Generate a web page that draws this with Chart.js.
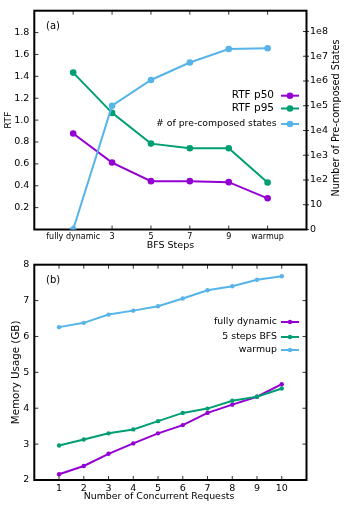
<!DOCTYPE html>
<html>
<head>
<meta charset="utf-8">
<script src="https://cdn.jsdelivr.net/npm/chart.js@4.4.1/dist/chart.umd.min.js"></script>
<style>
  html, body { margin: 0; padding: 0; background: #fff; }
  #wrap { position: relative; width: 346px; height: 507px; }
  canvas { position: absolute; left: 0; }
  #chartA { top: 0; }
  #chartB { top: 254px; }
</style>
</head>
<body>
<div id="wrap">
  <canvas id="chartA" width="346" height="254"></canvas>
  <canvas id="chartB" width="346" height="253"></canvas>
</div>
<script>
// ── (a) RTF and pre-composed states vs BFS steps ─────────────────────
const bfsLabels   = ['fully dynamic', '3', '5', '7', '9', 'warmup'];
const rtfP50      = [0.878, 0.612, 0.442, 0.442, 0.433, 0.285];
const rtfP95      = [1.434, 1.066, 0.785, 0.743, 0.743, 0.430];
const preComposed = [0, 1.0e5, 1.1e6, 5.6e6, 1.95e7, 2.1e7];
const rtfTicks    = [0.2, 0.4, 0.6, 0.8, 1.0, 1.2, 1.4, 1.6, 1.8];
const stateTicks  = ['0', '10', '1e2', '1e3', '1e4', '1e5', '1e6', '1e7', '1e8'];
const stateTitle  = 'Number of Pre-composed States';

// ── (b) memory usage vs concurrent requests ──────────────────────────
const requests        = [1, 2, 3, 4, 5, 6, 7, 8, 9, 10];
const memFullyDynamic = [2.16, 2.39, 2.73, 3.02, 3.30, 3.53, 3.87, 4.10, 4.32, 4.67];
const memBfs5         = [2.96, 3.13, 3.30, 3.41, 3.64, 3.87, 3.99, 4.21, 4.32, 4.55];
const memWarmup       = [6.26, 6.38, 6.61, 6.72, 6.84, 7.06, 7.29, 7.40, 7.58, 7.68];
const memTicks        = [2, 3, 4, 5, 6, 7, 8];
const reqTitle        = 'Number of Concurrent Requests';

const FONT   = 'DejaVu Sans';
const PURPLE = '#9400d3', GREEN = '#009e73', BLUE = '#56b4e9';

const pts = (xs, ys) => ys.map((y, i) => ({ x: xs[i], y }));
const bfsX = bfsLabels.map((_, i) => i + 1);
// symlog-ish: 0 stays 0, everything else on log10
const stateLog = preComposed.map(v => v > 0 ? Math.log10(v) : 0);

// gnuplot-like frame: inward ticks, heavy border, panel tag
const frame = {
  id: 'frame',
  beforeDatasetsDraw(chart, args, o) {
    const { ctx, chartArea: a, scales } = chart;
    ctx.save();
    ctx.strokeStyle = '#333';
    ctx.lineWidth = 1;
    ctx.beginPath();
    scales.x.ticks.forEach(t => {
      const px = scales.x.getPixelForValue(t.value);
      ctx.moveTo(px, a.top);    ctx.lineTo(px, a.top + 4);
      ctx.moveTo(px, a.bottom); ctx.lineTo(px, a.bottom - 4);
    });
    scales.y.ticks.forEach(t => {
      const py = scales.y.getPixelForValue(t.value);
      ctx.moveTo(a.left, py); ctx.lineTo(a.left + 4, py);
      if (o.mirrorY) { ctx.moveTo(a.right, py); ctx.lineTo(a.right - 4, py); }
    });
    if (scales.y2) scales.y2.ticks.forEach(t => {
      const py = scales.y2.getPixelForValue(t.value);
      ctx.moveTo(a.right - 3.5, py); ctx.lineTo(a.right + 2.5, py);
    });
    ctx.stroke();
    ctx.strokeStyle = '#000';
    ctx.lineWidth = 2;
    ctx.strokeRect(a.left, a.top, a.width, a.height);
    ctx.fillStyle = '#000';
    ctx.font = `10px "${FONT}"`;
    ctx.textAlign = 'left';
    ctx.textBaseline = 'middle';
    ctx.fillText(o.tag, a.left + 11.7, a.top + 15.5);
    ctx.restore();
  }
};

// key box: text right-aligned, sample line + marker to its right
const keyBox = {
  id: 'keyBox',
  afterDatasetsDraw(chart, args, o) {
    const { ctx } = chart;
    ctx.save();
    chart.data.datasets.forEach((ds, i) => {
      const y = o.rows[i];
      ctx.fillStyle = '#000';
      ctx.font = `${o.sizes[i]}px "${FONT}"`;
      ctx.textAlign = 'right';
      ctx.textBaseline = 'middle';
      ctx.fillText(ds.label, o.textRight[i], y);
      ctx.strokeStyle = ds.borderColor;
      ctx.lineWidth = 2;
      ctx.beginPath(); ctx.moveTo(o.x0, y); ctx.lineTo(o.x1, y); ctx.stroke();
      ctx.fillStyle = ds.borderColor;
      ctx.beginPath(); ctx.arc((o.x0 + o.x1) / 2, y, o.r, 0, Math.PI * 2); ctx.fill();
    });
    ctx.restore();
  }
};

// free-standing labels (rotated right-axis title, offset x title)
const extraText = {
  id: 'extraText',
  afterDraw(chart, args, o) {
    const { ctx } = chart;
    (o.items || []).forEach(it => {
      ctx.save();
      ctx.translate(it.x, it.y);
      ctx.rotate(it.rot || 0);
      ctx.fillStyle = '#000';
      ctx.font = `${it.size}px "${FONT}"`;
      ctx.textAlign = 'center';
      ctx.textBaseline = 'middle';
      ctx.fillText(it.text, 0, 0);
      ctx.restore();
    });
  }
};

const noGrid = { display: false, drawTicks: false };
const noBorder = { display: false };

new Chart(document.getElementById('chartA'), {
  type: 'line',
  data: {
    datasets: [
      { label: 'RTF p50', data: pts(bfsX, rtfP50), yAxisID: 'y', order: 3,
        borderColor: PURPLE, backgroundColor: PURPLE, borderWidth: 2, pointRadius: 3.3, pointBorderWidth: 0 },
      { label: 'RTF p95', data: pts(bfsX, rtfP95), yAxisID: 'y', order: 2,
        borderColor: GREEN, backgroundColor: GREEN, borderWidth: 2, pointRadius: 3.3, pointBorderWidth: 0 },
      { label: '# of pre-composed states', data: pts(bfsX, stateLog), yAxisID: 'y2', order: 1,
        borderColor: BLUE, backgroundColor: BLUE, borderWidth: 2, pointRadius: 3.3, pointBorderWidth: 0 },
    ]
  },
  options: {
    responsive: false,
    devicePixelRatio: 1,
    animation: false,
    layout: { padding: { top: 9.5, left: 0, right: 0, bottom: 0 } },
    plugins: {
      legend: { display: false },
      tooltip: { enabled: false },
      frame: { tag: '(a)', mirrorY: false },
      keyBox: { rows: [95.7, 108.5, 124], sizes: [10.5, 10.5, 9.3], textRight: [274, 274, 276.5], x0: 281, x1: 299, r: 3.3 },
      extraText: { items: [{ text: stateTitle, x: 336.5, y: 118, rot: -Math.PI / 2, size: 9.7 }] },
    },
    scales: {
      x: {
        type: 'linear', min: 0, max: 7,
        afterBuildTicks: s => { s.ticks = bfsX.map(v => ({ value: v })); },
        afterFit: s => { s.height = 24.5; },
        ticks: { callback: (v, i) => bfsLabels[i], font: { family: FONT, size: 8 }, color: '#000', padding: 2.4, autoSkip: false, maxRotation: 0 },
        grid: noGrid, border: noBorder,
        title: { display: true, text: 'BFS Steps', font: { family: FONT, size: 9.5 }, color: '#000', padding: { top: 0, bottom: 2.3 } },
      },
      y: {
        position: 'left', min: 0, max: 2,
        afterBuildTicks: s => { s.ticks = rtfTicks.map(v => ({ value: v })); },
        afterFit: s => { s.width = 34.3; },
        ticks: { callback: v => v.toFixed(1), font: { family: FONT, size: 9.5 }, color: '#000', padding: 5 },
        grid: noGrid, border: noBorder,
        title: { display: true, text: 'RTF', font: { family: FONT, size: 9.5 }, color: '#000', padding: { top: 2.6, bottom: 0 } },
      },
      y2: {
        position: 'right', min: 0, max: 8.84,
        afterBuildTicks: s => { s.ticks = stateTicks.map((_, i) => ({ value: i })); },
        afterFit: s => { s.width = 39.5; },
        ticks: { callback: (v, i) => stateTicks[i], font: { family: FONT, size: 9.5 }, color: '#000', padding: 3.5 },
        grid: noGrid, border: noBorder,
      },
    }
  },
  plugins: [frame, keyBox, extraText]
});

new Chart(document.getElementById('chartB'), {
  type: 'line',
  data: {
    datasets: [
      { label: 'fully dynamic', data: pts(requests, memFullyDynamic), order: 3,
        borderColor: PURPLE, backgroundColor: PURPLE, borderWidth: 2, pointRadius: 2.2, pointBorderWidth: 0 },
      { label: '5 steps BFS', data: pts(requests, memBfs5), order: 2,
        borderColor: GREEN, backgroundColor: GREEN, borderWidth: 2, pointRadius: 2.2, pointBorderWidth: 0 },
      { label: 'warmup', data: pts(requests, memWarmup), order: 1,
        borderColor: BLUE, backgroundColor: BLUE, borderWidth: 2, pointRadius: 2.2, pointBorderWidth: 0 },
    ]
  },
  options: {
    responsive: false,
    devicePixelRatio: 1,
    animation: false,
    layout: { padding: { top: 6.5, left: 0, right: 39.5, bottom: 0 } },
    plugins: {
      legend: { display: false },
      tooltip: { enabled: false },
      frame: { tag: '(b)', mirrorY: true },
      keyBox: { rows: [68, 83, 96], sizes: [9.4, 9.4, 9.4], textRight: [277, 277, 277], x0: 281, x1: 299, r: 2.2 },
      extraText: { items: [{ text: reqTitle, x: 159, y: 243, rot: 0, size: 9.4 }] },
    },
    scales: {
      x: {
        type: 'linear', min: 0, max: 11,
        afterBuildTicks: s => { s.ticks = requests.map(v => ({ value: v })); },
        afterFit: s => { s.height = 27; },
        ticks: { callback: v => String(v), font: { family: FONT, size: 9.5 }, color: '#000', padding: 2.6, autoSkip: false, maxRotation: 0 },
        grid: noGrid, border: noBorder,
      },
      y: {
        position: 'left', min: 2, max: 8,
        afterBuildTicks: s => { s.ticks = memTicks.map(v => ({ value: v })); },
        afterFit: s => { s.width = 34.3; },
        ticks: { callback: v => String(v), font: { family: FONT, size: 9.5 }, color: '#000', padding: 5 },
        grid: noGrid, border: noBorder,
        title: { display: true, text: 'Memory Usage (GB)', font: { family: FONT, size: 10.3 }, color: '#000', padding: { top: 10, bottom: 0 } },
      },
    }
  },
  plugins: [frame, keyBox, extraText]
});
</script>
</body>
</html>
